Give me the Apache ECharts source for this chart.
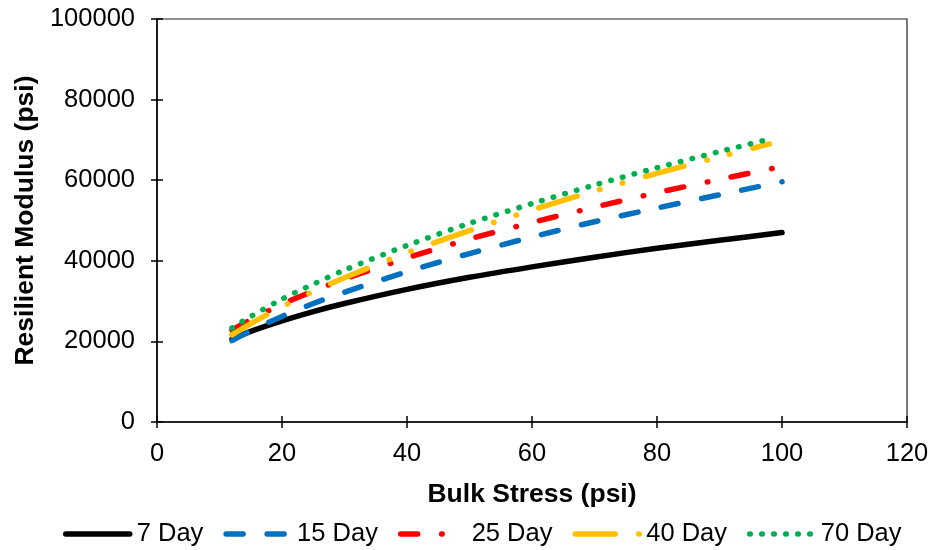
<!DOCTYPE html>
<html>
<head>
<meta charset="utf-8">
<script src="https://cdn.jsdelivr.net/npm/echarts@6/dist/echarts.min.js"></script>
<style>
html,body{margin:0;padding:0;background:#fff;}
#chart{width:935px;height:550px;}
</style>
</head>
<body>
<div id="chart"></div>
<script>
// Data
const seriesNames = ['7 Day', '15 Day', '25 Day', '40 Day', '70 Day'];
const stressA = [12, 15, 20, 25, 30, 40, 50, 60, 70, 80, 90, 100];
const stressB = [12, 15, 20, 25, 30, 40, 50, 60, 70, 80, 90, 98];
const day7  = [20600, 22500, 25100, 27400, 29400, 32900, 35900, 38500, 40900, 43100, 45100, 47000];
const day15 = [20200, 22600, 26200, 29400, 32200, 37300, 41800, 45900, 49700, 53100, 56400, 59600];
const day25 = [22800, 25400, 29200, 32500, 35500, 40700, 45400, 49500, 53300, 56900, 60200, 63400];
const day40 = [21600, 24400, 28600, 32400, 35800, 42000, 47500, 52600, 57300, 61700, 65800, 69000];
const day70 = [23300, 26200, 30500, 34200, 37700, 43800, 49300, 54200, 58800, 63100, 67100, 70200];
const xTicks = [0, 20, 40, 60, 80, 100, 120];
const yTicks = [0, 20000, 40000, 60000, 80000, 100000];

const FONT = "'Liberation Sans', Arial, sans-serif";
const LW = 5.5;

function pairs(xs, ys) { return xs.map((x, i) => [x, ys[i]]); }

const styles = [
  { color: '#000000', type: 'solid' },
  { color: '#0070C0', type: [17, 24] },
  { color: '#FF0000', type: [17, 24, 0.5, 24] },
  { color: '#FFC000', type: [40, 23.5, 0.5, 23, 0.5, 23.5] },
  { color: '#00B050', type: [0.5, 11.5] }
];
const dataSets = [pairs(stressA, day7), pairs(stressA, day15), pairs(stressA, day25), pairs(stressB, day40), pairs(stressB, day70)];

const gridRect = { left: 157, right: 28, top: 19, bottom: 128 };

const option = {
  backgroundColor: '#ffffff',
  animation: false,
  grid: [
    Object.assign({ show: true, borderColor: '#222', borderWidth: 1.2, containLabel: false }, gridRect),
    Object.assign({ show: false, containLabel: false }, gridRect)
  ],
  legend: {
    left: 58,
    top: 516,
    width: 870,
    itemWidth: 64,
    itemHeight: 6,
    itemGap: 20,
    textStyle: { fontSize: 25.5, color: '#000', fontFamily: FONT, padding: [0, 0, 0, 2] },
    lineStyle: { width: LW },
    itemStyle: { opacity: 0 },
    data: seriesNames
  },
  xAxis: [
    {
      type: 'value', gridIndex: 0, min: 0, max: 120, interval: 20,
      name: 'Bulk Stress (psi)', nameLocation: 'middle', nameGap: 59,
      nameTextStyle: { fontSize: 26.5, fontWeight: 'bold', color: '#000', fontFamily: FONT },
      axisLine: { show: true, lineStyle: { color: '#000', width: 1.5 } },
      axisTick: { show: true, inside: false, length: 6, lineStyle: { color: '#000', width: 1.5 } },
      axisLabel: { fontSize: 25.5, color: '#000', fontFamily: FONT, margin: 19,
        formatter: v => xTicks.indexOf(v) >= 0 ? String(v) : '' },
      splitLine: { show: false }
    },
    {
      type: 'value', gridIndex: 1, min: 0, max: 120, interval: 20,
      axisLine: { show: false },
      axisTick: { show: true, inside: true, length: 6, lineStyle: { color: '#000', width: 1.5 } },
      axisLabel: { show: false },
      splitLine: { show: false }
    }
  ],
  yAxis: [
    {
      type: 'value', gridIndex: 0, min: 0, max: 100000, interval: 20000,
      name: 'Resilient Modulus (psi)', nameLocation: 'middle', nameGap: 116,
      nameTextStyle: { fontSize: 26.5, fontWeight: 'bold', color: '#000', fontFamily: FONT },
      axisLine: { show: true, lineStyle: { color: '#000', width: 1.5 } },
      axisTick: { show: true, inside: false, length: 6, lineStyle: { color: '#000', width: 1.5 } },
      axisLabel: { fontSize: 25.5, color: '#000', fontFamily: FONT, margin: 22,
        formatter: v => yTicks.indexOf(v) >= 0 ? String(v) : '' },
      splitLine: { show: false }
    },
    {
      type: 'value', gridIndex: 1, min: 0, max: 100000, interval: 20000,
      axisLine: { show: false },
      axisTick: { show: true, inside: true, length: 6, lineStyle: { color: '#000', width: 1.5 } },
      axisLabel: { show: false },
      splitLine: { show: false }
    }
  ],
  series: seriesNames.map((name, i) => ({
    name: name,
    type: 'line',
    xAxisIndex: 0,
    yAxisIndex: 0,
    data: dataSets[i],
    smooth: 0.3,
    symbol: 'circle',
    showSymbol: false,
    color: styles[i].color,
    lineStyle: { color: styles[i].color, width: LW, type: styles[i].type, cap: 'round', join: 'round' },
    emphasis: { disabled: true },
    z: 2 + i
  }))
};

const chart = echarts.init(document.getElementById('chart'), null, { renderer: 'canvas' });
chart.setOption(option);
</script>
</body>
</html>
